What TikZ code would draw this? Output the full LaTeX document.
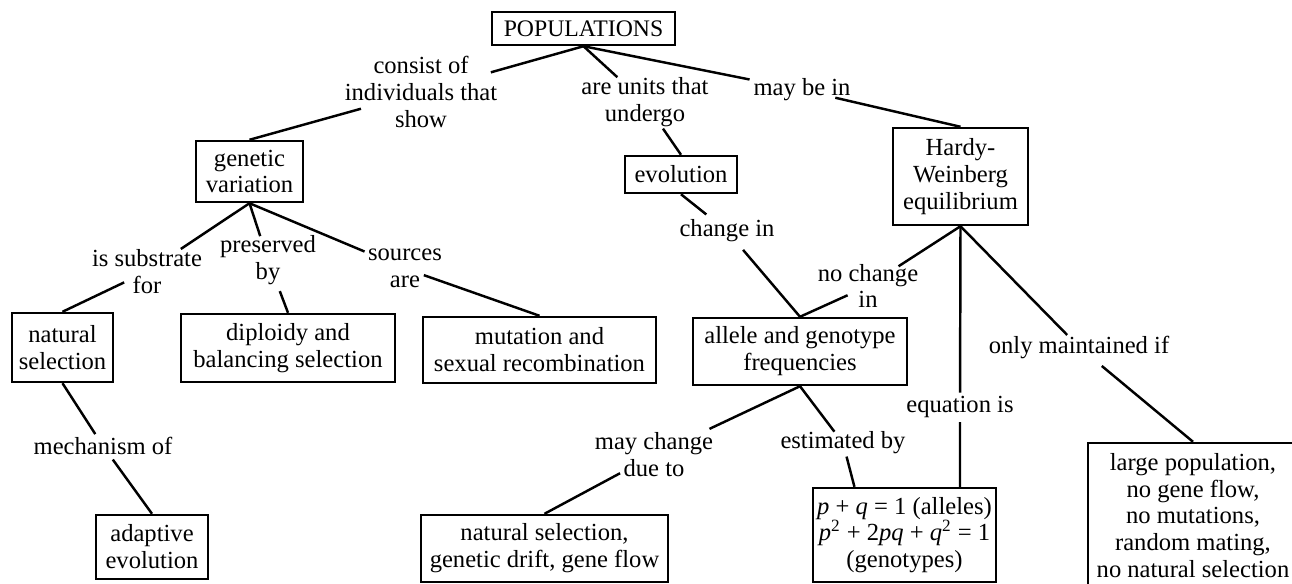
\documentclass[tikz,border=0pt]{standalone}
\usepackage{fontspec}
\setmainfont{Liberation Serif}
\usetikzlibrary{calc}

\begin{document}
\begin{tikzpicture}[x=0.02cm, y=-0.02cm, line width=1.4pt,
        font=\fontsize{14}{15.3}\selectfont,
        concept/.style={draw, rectangle, align=center, inner sep=2pt},
        linkword/.style={align=center, inner sep=0pt}]
        \useasboundingbox (0,0) rectangle (1292,583);
        \node (pop) [concept, minimum width=3.66cm, minimum height=0.66cm, font=\fontsize{13.5}{15}\selectfont] at (583.5,28.5) {POPULATIONS};
        \node (genvar) [concept, minimum width=2.14cm, minimum height=1.22cm] at (249.5,171.5) {genetic\\variation};
        \node (evol) [concept, minimum width=2.24cm, minimum height=0.74cm] at (681,174.5) {evolution};
        \node (hw) [concept, minimum width=2.70cm, minimum height=1.94cm] at (960.5,176.5) {Hardy-\\Weinberg\\equilibrium};
        \node (natsel) [concept, minimum width=2.02cm, minimum height=1.38cm] at (62.5,347.5) {natural\\selection};
        \node (diploidy) [concept, minimum width=4.28cm, minimum height=1.36cm] at (288,348) {diploidy and\\balancing selection};
        \node (mutation) [concept, minimum width=4.66cm, minimum height=1.32cm] at (539.5,350) {mutation and\\sexual recombination};
        \node (allele) [concept, minimum width=4.28cm, minimum height=1.34cm] at (800,351.5) {allele and genotype\\frequencies};
        \node (adaptive) [concept, minimum width=2.24cm, minimum height=1.28cm] at (152,547) {adaptive\\evolution};
        \node (drift) [concept, minimum width=4.94cm, minimum height=1.34cm] at (544.5,548.5) {natural selection,\\genetic drift, gene flow};
        \node (pq) [concept, minimum width=3.66cm, minimum height=1.88cm] at (904.5,535) {\textit{p} + \textit{q} = 1 (alleles)\\\textit{p}\textsuperscript{2} + 2\textit{pq} + \textit{q}\textsuperscript{2} = 1\\(genotypes)};
        \node (large) [concept, minimum width=4.20cm, minimum height=2.90cm] at (1193,515.5) {large population,\\no gene flow,\\no mutations,\\random mating,\\no natural selection};

        \node (consist) [linkword] at (421,92) {consist of\\individuals that\\show};
        \node (units) [linkword] at (645,102.5) {are units that\\undergo};
        \node (maybe) [linkword] at (802,90) {may be in};
        \node (substrate) [linkword] at (147,271.5) {is substrate\\for};
        \node (preserved) [linkword] at (268,260) {preserved\\by};
        \node (sources) [linkword] at (405,268.5) {sources\\are};
        \node (change) [linkword] at (727,231) {change in};
        \node (nochange) [linkword] at (868,286) {no change\\in};
        \node (onlym) [linkword] at (1079,347) {only maintained if};
        \node (eqis) [linkword] at (960,407) {equation is};
        \node (mech) [linkword] at (103,446) {mechanism of};
        \node (maychange) [linkword] at (654,455) {may change\\due to};
        \node (estby) [linkword] at (843,443) {estimated by};

        \draw (pop.south) -- ($(pop.south)!.57!(consist)$);
        \draw (genvar.north) -- ($(genvar.north)!.65!(consist)$);
        \draw (pop.south) -- ($(pop.south)!.55!(units)$);
        \draw (evol.north) -- ($(evol.north)!.5!(units)$);
        \draw (pop.south) -- ($(pop.south)!.76!(maybe)$);
        \draw (hw.north) -- ($(hw.north)!.79!(maybe)$);
        \draw (genvar.south) -- ($(genvar.south)!.67!(substrate)$);
        \draw (natsel.north) -- ($(natsel.north)!.73!(substrate)$);
        \draw (genvar.south) -- ($(genvar.south)!.58!(preserved)$);
        \draw (diploidy.north) -- ($(diploidy.north)!.41!(preserved)$);
        \draw (genvar.south) -- ($(genvar.south)!.74!(sources)$);
        \draw (mutation.north) -- ($(mutation.north)!.86!(sources)$);
        \draw (evol.south) -- ($(evol.south)!.55!(change)$);
        \draw (allele.north) -- ($(allele.north)!.78!(change)$);
        \draw (hw.south) -- ($(hw.south)!.67!(nochange)$);
        \draw (allele.north) -- ($(allele.north)!.7!(nochange)$);
        \draw (hw.south) -- ($(hw.south)!.92!(eqis)$);
        \draw (pq.north -| eqis) -- ($(pq.north -| eqis)!.81!(eqis)$);
        \draw (hw.south) -- ($(hw.south)!.9!(onlym)$);
        \draw (large.north) -- ($(large.north)!.8!(onlym)$);
        \draw (natsel.south) -- ($(natsel.south)!.81!(mech)$);
        \draw (adaptive.north) -- ($(adaptive.north)!.8!(mech)$);
        \draw (allele.south) -- ($(allele.south)!.62!(maychange)$);
        \draw (drift.north) -- ($(drift.north)!.69!(maychange)$);
        \draw (allele.south) -- ($(allele.south)!.8!(estby)$);
        \draw ($(pq.north west)!.23!(pq.north east)$) -- ($($(pq.north west)!.23!(pq.north east)$)!.69!(estby)$);
    \end{tikzpicture}
\end{document}
